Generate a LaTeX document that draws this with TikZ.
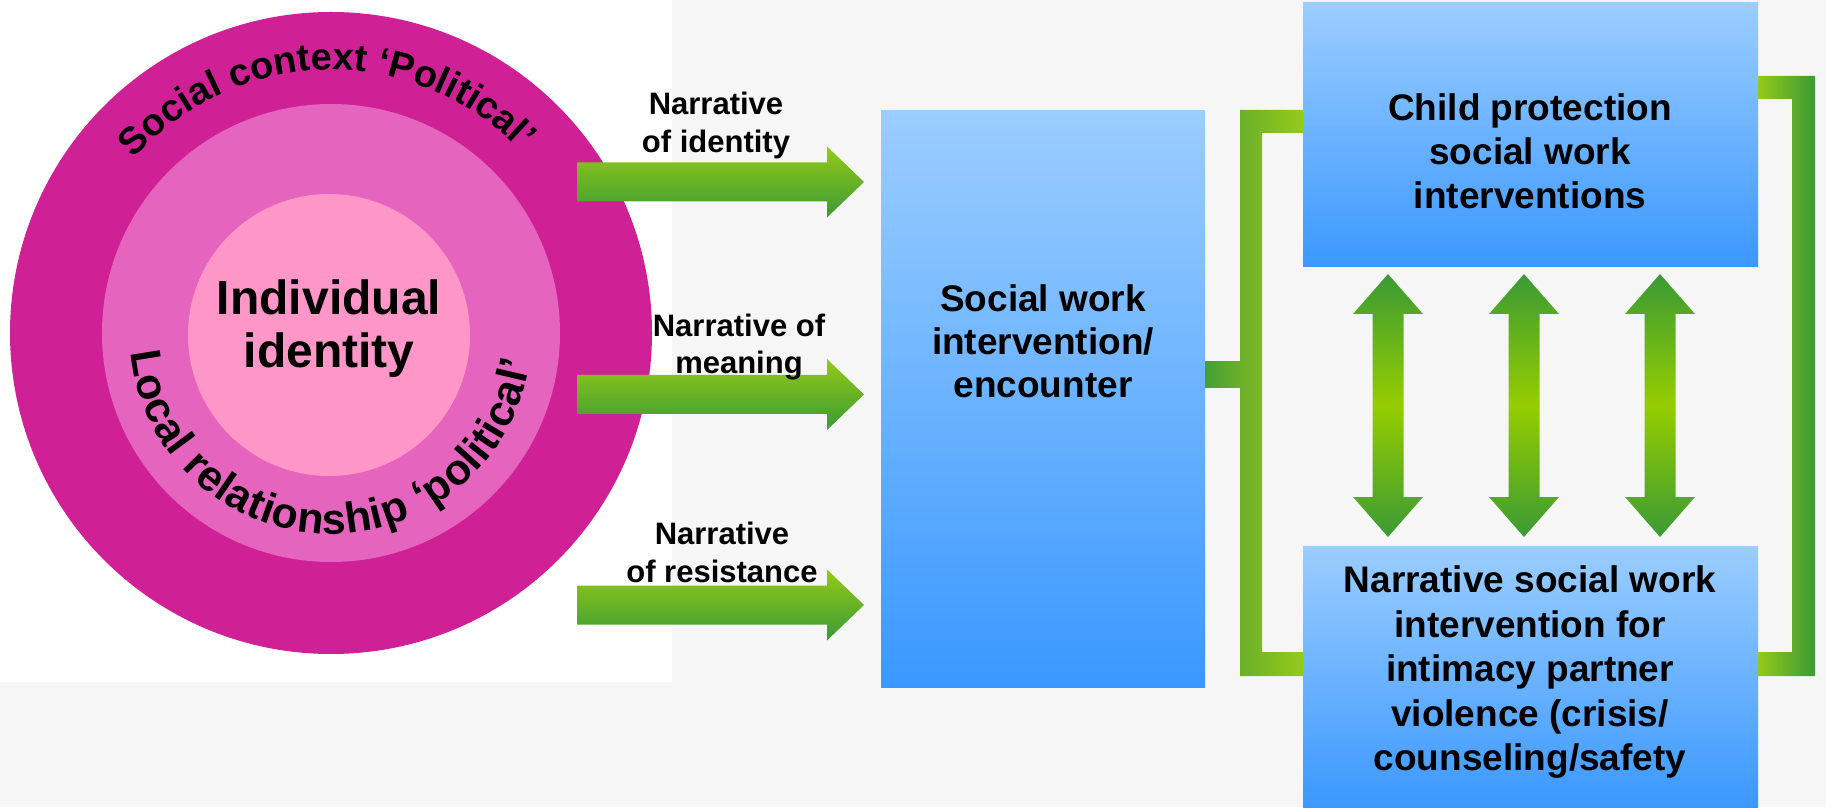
\documentclass[tikz,border=0pt]{standalone}
\usepackage{fontspec}
\setmainfont{Liberation Sans}
\usetikzlibrary{decorations.text}
\definecolor{bgc}{RGB}{246,246,246}
\definecolor{ringA}{RGB}{208,32,150}
\definecolor{ringB}{RGB}{229,100,190}
\definecolor{ringC}{RGB}{255,150,200}
\definecolor{blueT}{RGB}{155,205,255}
\definecolor{blueB}{RGB}{58,152,255}
\definecolor{gL}{RGB}{148,202,24}
\definecolor{gD}{RGB}{58,154,52}
\definecolor{gM}{RGB}{108,176,42}
\definecolor{gB}{RGB}{150,205,0}
\definecolor{gS}{RGB}{68,160,50}
\newcommand{\RArrow}[1]{%
  \shade[top color=gL, bottom color=gD]
    (577,{#1+19.5}) -- (827,{#1+19.5}) -- (827,{#1+35.5}) -- (864,#1)
    -- (827,{#1-35.5}) -- (827,{#1-19.5}) -- (577,{#1-19.5}) -- cycle;}
\newcommand{\DArrow}[1]{%
  \shade[top color=gD, bottom color=gD, middle color=gB]
    (#1,533) -- ({#1+35},493) -- ({#1+15.5},493) -- ({#1+15.5},310)
    -- ({#1+35},310) -- (#1,270) -- ({#1-35},310) -- ({#1-15.5},310)
    -- ({#1-15.5},493) -- ({#1-35},493) -- cycle;}
\begin{document}
\begin{tikzpicture}[x=1pt,y=1pt,
  bluebox/.style={shade, top color=blueT, bottom color=blueB, inner sep=0pt, draw=none},
  ring/.style={circle, inner sep=0pt, draw=none},
  boxtext/.style={font=\bfseries\fontsize{37}{44}\selectfont, anchor=base, inner sep=0pt},
  lbl/.style={font=\bfseries\fontsize{31}{37}\selectfont, anchor=base, inner sep=0pt},
  bigtext/.style={font=\bfseries\fontsize{48}{55}\selectfont, anchor=base, inner sep=0pt}]
\useasboundingbox (0,0) rectangle (1826,807);
\fill[bgc] (0,0) rectangle (1826,807);
\fill[white] (0,125) rectangle (672,807);
% rings
\node[ring, fill=ringA, minimum size=642pt] (outer) at (331,474) {};
\node[ring, fill=ringB, minimum size=458pt] (middle) at (331,474) {};
\node[ring, fill=ringC, minimum size=282pt] (inner) at (329,472) {};
\node[bigtext] (ind1) at (329,492) {Individual};
\node[bigtext] (ind2) at (329,439) {identity};
\path[decorate, decoration={text along path, text align=fit to path,
  text={|\bfseries\fontsize{38}{40}\selectfont|Social context ‘Political’}}]
  ([shift={(138.5:263)}]331,474) arc[start angle=138.5, end angle=44, radius=263];
\path[decorate, decoration={text along path, text align=fit to path,
  text={|\bfseries\fontsize{43}{46}\selectfont|Local relationship ‘political’}}]
  ([shift={(185.5:201)}]331,474) arc[start angle=185.5, end angle=352, radius=201];
% block arrows
\RArrow{625}
\RArrow{412.5}
\RArrow{202}
\node[lbl] (l1a) at (716,692) {Narrative};
\node[lbl] (l1b) at (716,654) {of identity};
\node[lbl] (l2a) at (739,470) {Narrative of};
\node[lbl] (l2b) at (739,433) {meaning};
\node[lbl] (l3a) at (722,263) {Narrative};
\node[lbl] (l3b) at (722,225) {of resistance};
% boxes
\node[bluebox, minimum width=324pt, minimum height=576pt] (mid) at (1043,408) {};
\node[bluebox, minimum width=455pt, minimum height=264pt] (cp) at (1530.5,672) {};
\node[bluebox, minimum width=455pt, minimum height=261pt] (nar) at (1530.5,130.5) {};
\node[boxtext] (m1) at (1043,495) {Social work};
\node[boxtext] (m2) at (1043,452) {intervention/};
\node[boxtext] (m3) at (1043,409) {encounter};
\node[boxtext] (c1) at (1530,686) {Child protection};
\node[boxtext] (c2) at (1530,642) {social work};
\node[boxtext] (c3) at (1530,598) {interventions};
\node[boxtext] (n1) at (1530,215) {Narrative social work};
\node[boxtext] (n2) at (1530,170) {intervention for};
\node[boxtext] (n3) at (1530,126) {intimacy partner};
\node[boxtext] (n4) at (1530,81) {violence (crisis/};
\node[boxtext] (n5) at (1530,37) {counseling/safety};
% connectors
\shade[left color=gS, right color=gM] (mid.east |- 0,419) rectangle (1241,445);
\shade[left color=gM, right color=gL] (1240,697) -- (cp.west |- 0,697) -- (cp.west |- 0,674)
  -- (1262,674) -- (1262,155) -- (nar.west |- 0,155) -- (nar.west |- 0,131) -- (1240,131) -- cycle;
\shade[left color=gL, right color=gD] (cp.east |- 0,731) -- (1815,731) -- (1815,131)
  -- (nar.east |- 0,131) -- (nar.east |- 0,155) -- (1792,155) -- (1792,708) -- (cp.east |- 0,708) -- cycle;
\DArrow{1388}
\DArrow{1524}
\DArrow{1660}
\end{tikzpicture}
\end{document}
